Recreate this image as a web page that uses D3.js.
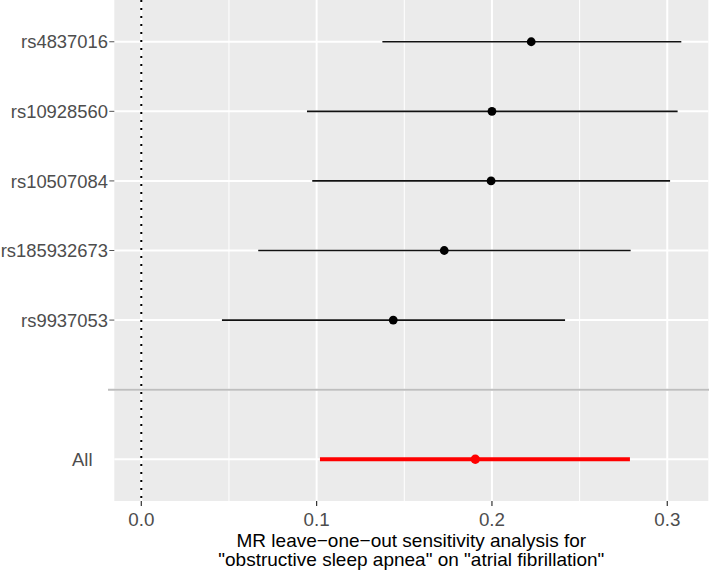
<!DOCTYPE html>
<html>
<head>
<meta charset="utf-8">
<script src="https://cdn.jsdelivr.net/npm/d3@7"></script>
<style>
  html, body { margin: 0; padding: 0; background: #fff; }
  svg { display: block; font-family: "Liberation Sans", Arial, sans-serif; }
</style>
</head>
<body>
<svg id="chart" width="709" height="570"></svg>
<script>
// ---- data ----
const snps = ["rs4837016", "rs10928560", "rs10507084", "rs185932673", "rs9937053"];
const snpBeta = [0.2224, 0.2000, 0.1995, 0.1728, 0.1437];
const snpLower = [0.1375, 0.0945, 0.0975, 0.0667, 0.0460];
const snpUpper = [0.3080, 0.3059, 0.3016, 0.2791, 0.2417];
const allLabel = "All";
const allBeta = 0.1905;
const allLower = 0.1019;
const allUpper = 0.2787;
const yLevels = ["rs4837016", "rs10928560", "rs10507084", "rs185932673", "rs9937053", "", "All"];
const xTicks = [0, 0.1, 0.2, 0.3];
const xMinorTicks = [0.05, 0.15, 0.25];
const xTitle = ["MR leave\u2212one\u2212out sensitivity analysis for", "\"obstructive sleep apnea\" on \"atrial fibrillation\""];

// ---- layout ----
const svg = d3.select("#chart");
const panel = { left: 114.3, right: 708.3, top: 0, bottom: 501 };

const dataMin = Math.min(0, d3.min(snpLower), allLower);
const dataMax = Math.max(d3.max(snpUpper), allUpper);
const pad = (dataMax - dataMin) * 0.05;
const x = d3.scaleLinear().domain([dataMin - pad, dataMax + pad]).range([panel.left, panel.right]);
const y = d3.scalePoint().domain(yLevels).range([panel.top, panel.bottom]).padding(0.6);

const rows = snps.map((s, i) => ({ snp: s, b: snpBeta[i], lo: snpLower[i], hi: snpUpper[i] }));

// panel background
svg.append("rect")
  .attr("x", panel.left).attr("y", panel.top)
  .attr("width", panel.right - panel.left).attr("height", panel.bottom - panel.top)
  .attr("fill", "#EBEBEB");

const g = svg.append("g");

// minor grid
g.selectAll("line.minor").data(xMinorTicks).enter().append("line")
  .attr("x1", d => x(d)).attr("x2", d => x(d))
  .attr("y1", panel.top).attr("y2", panel.bottom)
  .attr("stroke", "#fff").attr("stroke-width", 1);

// major grid x
g.selectAll("line.majx").data(xTicks).enter().append("line")
  .attr("x1", d => x(d)).attr("x2", d => x(d))
  .attr("y1", panel.top).attr("y2", panel.bottom)
  .attr("stroke", "#fff").attr("stroke-width", 2);

// major grid y
g.selectAll("line.majy").data(yLevels).enter().append("line")
  .attr("x1", panel.left).attr("x2", panel.right)
  .attr("y1", d => y(d)).attr("y2", d => y(d))
  .attr("stroke", "#fff").attr("stroke-width", 2);

// vertical dotted line at 0
g.append("line")
  .attr("x1", x(0)).attr("x2", x(0))
  .attr("y1", panel.top).attr("y2", panel.bottom)
  .attr("stroke", "#000").attr("stroke-width", 2)
  .attr("stroke-dasharray", "2,6");

// grey separator line
g.append("line")
  .attr("x1", 108).attr("x2", 709)
  .attr("y1", y("")).attr("y2", y(""))
  .attr("stroke", "#BEBEBE").attr("stroke-width", 2);

// SNP error bars
g.selectAll("line.err").data(rows).enter().append("line")
  .attr("x1", d => x(d.lo)).attr("x2", d => x(d.hi))
  .attr("y1", d => y(d.snp)).attr("y2", d => y(d.snp))
  .attr("stroke", "#111").attr("stroke-width", 1.6);

g.selectAll("circle.pt").data(rows).enter().append("circle")
  .attr("cx", d => x(d.b)).attr("cy", d => y(d.snp))
  .attr("r", 4.4).attr("fill", "#000");

// All
g.append("line")
  .attr("x1", x(allLower)).attr("x2", x(allUpper))
  .attr("y1", y(allLabel)).attr("y2", y(allLabel))
  .attr("stroke", "#FF0000").attr("stroke-width", 4);
g.append("circle")
  .attr("cx", x(allBeta)).attr("cy", y(allLabel))
  .attr("r", 4.7).attr("fill", "#FF0000");

// y axis labels and ticks
const yAxis = svg.append("g");
yAxis.selectAll("line.ytick").data(snps).enter().append("line")
  .attr("x1", panel.left - 5).attr("x2", panel.left)
  .attr("y1", d => y(d)).attr("y2", d => y(d))
  .attr("stroke", "#555").attr("stroke-width", 1);
yAxis.selectAll("text.ylab").data(snps).enter().append("text")
  .attr("x", panel.left - 6.3).attr("y", d => y(d))
  .attr("dy", "0.36em")
  .attr("text-anchor", "end")
  .attr("font-size", 18.4)
  .attr("fill", "#4D4D4D")
  .text(d => d);
yAxis.append("text")
  .attr("x", 92.5).attr("y", y(allLabel))
  .attr("dy", "0.36em")
  .attr("text-anchor", "end")
  .attr("font-size", 18.4)
  .attr("fill", "#4D4D4D")
  .text(allLabel);

// x axis
const xAxis = svg.append("g");
xAxis.selectAll("line.xtick").data(xTicks).enter().append("line")
  .attr("x1", d => x(d)).attr("x2", d => x(d))
  .attr("y1", panel.bottom).attr("y2", panel.bottom + 5)
  .attr("stroke", "#333").attr("stroke-width", 1.2);
xAxis.selectAll("text.xlab").data(xTicks).enter().append("text")
  .attr("x", d => x(d)).attr("y", 525.5)
  .attr("text-anchor", "middle")
  .attr("font-size", 18.8)
  .attr("fill", "#4D4D4D")
  .text(d => d3.format(".1f")(d));

// x title
const cx = (panel.left + panel.right) / 2;
svg.selectAll("text.xtitle").data(xTitle).enter().append("text")
  .attr("x", cx).attr("y", (d, i) => 546.5 + i * 19.5)
  .attr("text-anchor", "middle")
  .attr("font-size", 19)
  .attr("fill", "#000")
  .text(d => d);
</script>
</body>
</html>
